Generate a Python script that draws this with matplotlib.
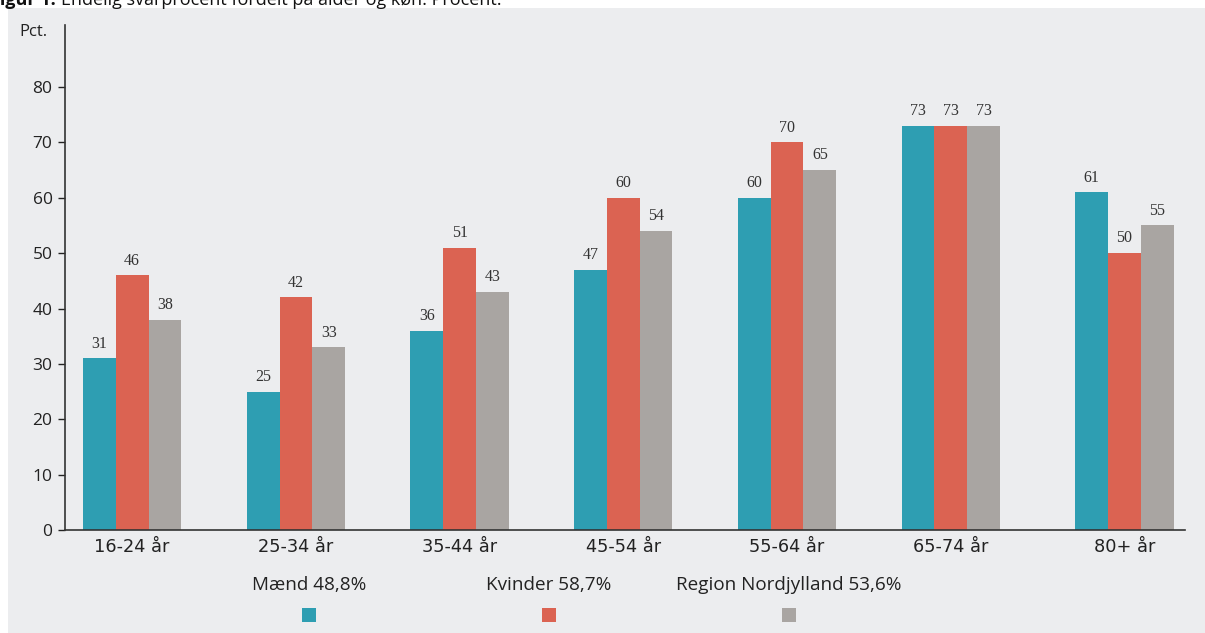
import matplotlib.pyplot as plt
from matplotlib.patches import Rectangle
import numpy as np

# data
groups = ["16-24 år", "25-34 år", "35-44 år", "45-54 år", "55-64 år", "65-74 år", "80+ år"]
maend = [31, 25, 36, 47, 60, 73, 61]
kvinder = [46, 42, 51, 60, 70, 73, 50]
region = [38, 33, 43, 54, 65, 73, 55]
series_names = ["Mænd 48,8%", "Kvinder 58,7%", "Region Nordjylland 53,6%"]
colors = ["#2E9EB2", "#DB6352", "#A9A5A2"]
bg = "#ECEDEF"

fig = plt.figure(figsize=(12.05, 6.33), dpi=100, facecolor="white")
# grey panel behind the chart
fig.patches.append(Rectangle((8/1205, 0), 1, 1 - 8/633, transform=fig.transFigure,
                             facecolor=bg, edgecolor="none", zorder=-10))
# title, cut off at the top edge as in the source
t1 = fig.text(-0.008, 1 - 5/633, "Figur 1.", fontsize=13, family="Open Sans", weight="bold",
              va="baseline", ha="left", color="#111")
fig.canvas.draw()
bb = t1.get_window_extent().transformed(fig.transFigure.inverted())
fig.text(bb.x1 + 5/1205, 1 - 5/633, "Endelig svarprocent fordelt på alder og køn. Procent.",
         fontsize=13, family="Open Sans", va="baseline", ha="left", color="#111")

ax = fig.add_axes([65/1205, 1 - 530/633, (1185-65)/1205, (530-25)/633])
ax.set_facecolor("none")

x = np.arange(len(groups), dtype=float)
x[-1] += 0.06  # last group sits a little further right
w = 0.2
for vals, off, c in zip([maend, kvinder, region], [-w, 0, w], colors):
    bars = ax.bar(x + off, vals, width=w, color=c, edgecolor="none", zorder=2)
    for b, v in zip(bars, vals):
        ax.text(b.get_x() + b.get_width()/2, v + 1.2, str(v), ha="center", va="bottom",
                fontsize=11.5, family="Liberation Serif", color="#333")

ax.set_ylim(0, 91.2)
ax.set_xlim(-0.41, 6.43)
ax.set_yticks(range(0, 81, 10))
ax.set_xticks(x)
ax.set_xticklabels(groups, fontsize=12.8, family="DejaVu Sans", color="#222")
ax.tick_params(axis="x", length=0, pad=6)
ax.tick_params(axis="y", length=5, width=1, direction="out", labelsize=12.5, colors="#222", pad=4)
for lab in ax.get_yticklabels():
    lab.set_family("Open Sans")
for s in ["top", "right"]:
    ax.spines[s].set_visible(False)
for s in ["left", "bottom"]:
    ax.spines[s].set_color("#333")
    ax.spines[s].set_linewidth(1.2)

fig.text(33/1205, 1 - 32/633, "Pct.", fontsize=12, family="Open Sans", ha="center", va="center", color="#222")

# legend: label above a small square
leg_x = [309, 549, 789]
for name, c, lx in zip(series_names, colors, leg_x):
    fig.text(lx/1205, 1 - 585/633, name, fontsize=13.6, family="Open Sans", ha="center",
             va="center", color="#222")
    fig.patches.append(Rectangle(((lx - 7)/1205, 1 - 622/633), 14/1205, 14/633,
                                 transform=fig.transFigure, facecolor=c, edgecolor="none"))

fig.savefig("out.png", dpi=100, facecolor="white")
